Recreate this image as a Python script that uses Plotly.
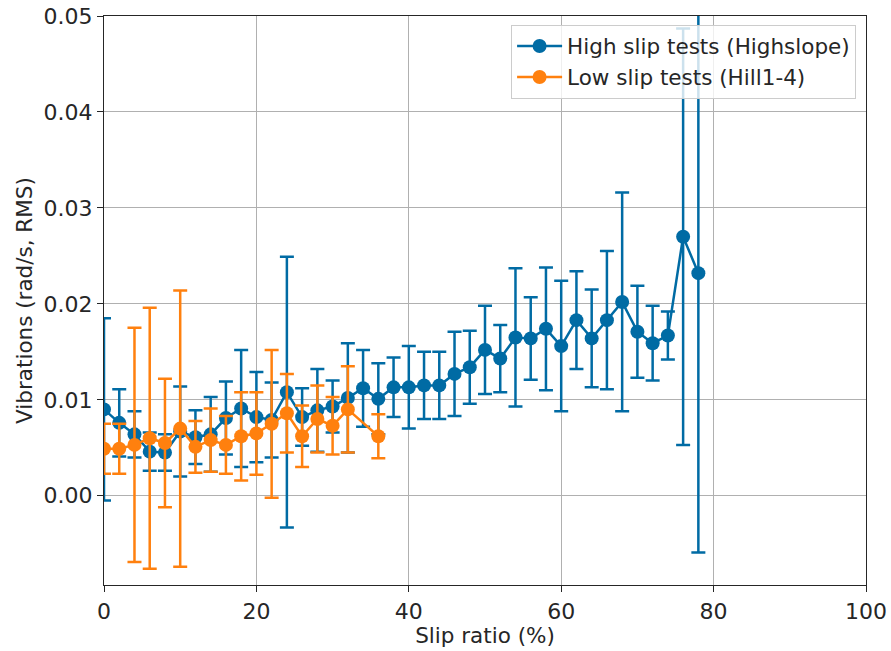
import plotly.graph_objects as go

# High slip tests (Highslope)
high_x = [0, 2, 4, 6, 8, 10, 12, 14, 16, 18, 20, 22, 24, 26, 28, 30, 32, 34, 36, 38,
          40, 42, 44, 46, 48, 50, 52, 54, 56, 58, 60, 62, 64, 66, 68, 70, 72, 74, 76, 78]
high_y = [0.0090, 0.0076, 0.0064, 0.0046, 0.0045, 0.0067, 0.0061, 0.0064, 0.0081, 0.0091,
          0.0082, 0.0079, 0.0108, 0.0082, 0.0089, 0.0093, 0.0102, 0.0112, 0.0101, 0.0113,
          0.0113, 0.0115, 0.0115, 0.0127, 0.0134, 0.0152, 0.0143, 0.0165, 0.0164, 0.0174,
          0.0156, 0.0183, 0.0164, 0.0183, 0.0202, 0.0171, 0.0159, 0.0167, 0.0270, 0.0232]
high_err = [0.0095, 0.0035, 0.0024, 0.0020, 0.0019, 0.0047, 0.0028, 0.0039, 0.0038, 0.0061,
            0.0047, 0.0039, 0.0141, 0.0030, 0.0043, 0.0027, 0.0057, 0.0040, 0.0037, 0.0031,
            0.0043, 0.0035, 0.0035, 0.0044, 0.0038, 0.0046, 0.0035, 0.0072, 0.0043, 0.0064,
            0.0068, 0.0051, 0.0051, 0.0072, 0.0114, 0.0048, 0.0039, 0.0025, 0.0217, 0.0291]

# Low slip tests (Hill1-4)
low_x = [0, 2, 4, 6, 8, 10, 12, 14, 16, 18, 20, 22, 24, 26, 28, 30, 32, 36]
low_y = [0.0049, 0.0049, 0.0053, 0.0060, 0.0055, 0.0070, 0.0051, 0.0058, 0.0053, 0.0062,
         0.0065, 0.0075, 0.0086, 0.0062, 0.0080, 0.0073, 0.0090, 0.0062]
low_err = [0.0026, 0.0026, 0.0122, 0.0136, 0.0067, 0.0144, 0.0027, 0.0033, 0.0030, 0.0046,
           0.0043, 0.0077, 0.0041, 0.0032, 0.0035, 0.0030, 0.0045, 0.0023]

x_ticks = [0, 20, 40, 60, 80, 100]
y_ticks = [0.00, 0.01, 0.02, 0.03, 0.04, 0.05]

BLUE = "#006BA4"
ORANGE = "#FF800E"
TICK_FS = 22
TEXT_FS = 21.5

fig = go.Figure()
for name, xs, ys, es, col in [
    ("High slip tests (Highslope)", high_x, high_y, high_err, BLUE),
    ("Low slip tests (Hill1-4)", low_x, low_y, low_err, ORANGE),
]:
    fig.add_trace(go.Scatter(
        x=xs, y=ys, name=name, mode="lines+markers",
        line=dict(color=col, width=2.5),
        marker=dict(color=col, size=14),
        error_y=dict(type="data", array=es, visible=True, color=col,
                     thickness=2.5, width=7),
        cliponaxis=True,
    ))

axis_common = dict(
    showline=True, linecolor="#262626", linewidth=1.2, mirror=True,
    ticks="outside", ticklen=6, tickwidth=1.2, tickcolor="#262626",
    showgrid=True, gridcolor="#b0b0b0", gridwidth=1, zeroline=False,
    automargin=False,
    tickfont=dict(family="DejaVu Sans", size=TICK_FS, color="#262626"),
)

fig.update_layout(
    width=891, height=651,
    margin=dict(l=104, r=25, t=16, b=66),
    paper_bgcolor="white", plot_bgcolor="white",
    font=dict(family="DejaVu Sans", size=TEXT_FS, color="#262626"),
    xaxis=dict(range=[0, 100], tickvals=x_ticks,
               title=dict(text="Slip ratio (%)", font=dict(size=TEXT_FS), standoff=4),
               **axis_common),
    yaxis=dict(range=[-0.0093, 0.05], tickvals=y_ticks, tickformat=".2f",
               title=dict(text="Vibrations (rad/s, RMS)", font=dict(size=TEXT_FS), standoff=4),
               **axis_common),
    legend=dict(x=0.987, y=0.985, xanchor="right", yanchor="top",
                bgcolor="rgba(255,255,255,0.8)", bordercolor="#cccccc", borderwidth=1,
                font=dict(size=TEXT_FS, color="#262626"), itemwidth=45,
                tracegroupgap=0),
    showlegend=True,
)

fig.write_html("out.html")
